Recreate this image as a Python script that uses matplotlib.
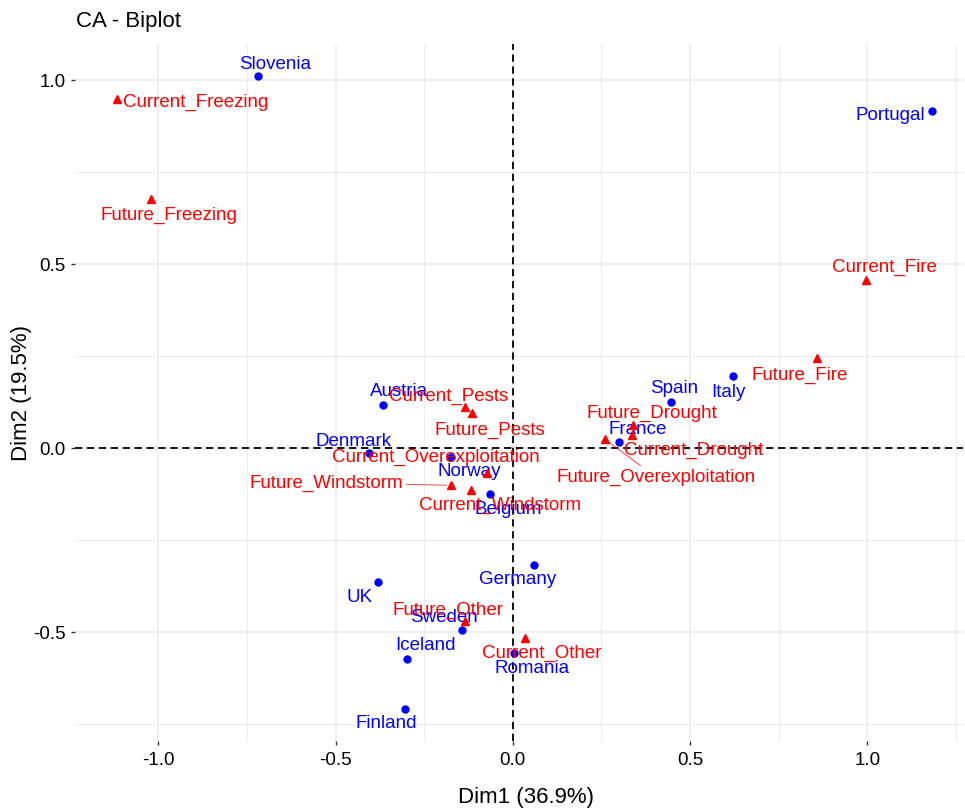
import numpy as np
import matplotlib
matplotlib.use("Agg")
import matplotlib.pyplot as plt

plt.rcParams['font.family'] = ['Liberation Sans', 'DejaVu Sans']

# Row points (countries)
row_names = ["Slovenia", "Portugal", "Italy", "Spain", "France", "Austria",
             "Denmark", "Norway", "Belgium", "Germany", "UK", "Sweden",
             "Iceland", "Romania", "Finland"]
row_dim1 = [-0.719, 1.183, 0.622, 0.447, 0.301, -0.367,
            -0.405, -0.175, -0.064, 0.061, -0.381, -0.144,
            -0.298, 0.002, -0.305]
row_dim2 = [1.011, 0.917, 0.196, 0.125, 0.017, 0.118,
            -0.014, -0.024, -0.125, -0.317, -0.365, -0.494,
            -0.573, -0.558, -0.710]

# Column points (threats)
col_names = ["Current_Freezing", "Future_Freezing", "Current_Fire", "Future_Fire",
             "Future_Drought", "Current_Drought", "Future_Overexploitation",
             "Current_Pests", "Future_Pests", "Current_Overexploitation",
             "Future_Windstorm", "Current_Windstorm", "Future_Other", "Current_Other"]
col_dim1 = [-1.117, -1.020, 0.997, 0.858,
            0.340, 0.337, 0.260,
            -0.134, -0.116, -0.073,
            -0.175, -0.118, -0.135, 0.035]
col_dim2 = [0.948, 0.677, 0.457, 0.244,
            0.0625, 0.035, 0.024,
            0.112, 0.094, -0.069,
            -0.101, -0.114, -0.470, -0.517]

# label offsets in pixels (repel layout)
row_offsets = {"Slovenia": (17, 12), "Portugal": (-42, -5), "Italy": (-5, -17),
               "Spain": (3, 14), "France": (18, 12), "Austria": (16, 13),
               "Denmark": (-16, 12), "Norway": (18, -15), "Belgium": (18, -15),
               "Germany": (-17, -15), "UK": (-18, -15), "Sweden": (-18, 12),
               "Iceland": (18, 13), "Romania": (19, -15), "Finland": (-18, -14)}
col_offsets = {"Current_Freezing": (79, -3), "Future_Freezing": (18, -16),
               "Current_Fire": (18, 12), "Future_Fire": (-17, -17),
               "Future_Drought": (19, 12), "Current_Drought": (61, -15),
               "Future_Overexploitation": (51, -38), "Current_Pests": (-17, 10),
               "Future_Pests": (18, -17), "Current_Overexploitation": (-51, 16),
               "Future_Windstorm": (-124, 2), "Current_Windstorm": (29, -15),
               "Future_Other": (-17, 11), "Current_Other": (17, -15)}
with_segment = ["Future_Windstorm", "Future_Overexploitation"]

BLUE = "#0000FF"
RED = "#FF0000"
FS_LABEL = 13.5

fig = plt.figure(figsize=(9.65, 8.1), dpi=100)
ax = fig.add_axes([75 / 965, 1 - 741 / 810, 888 / 965, 697 / 810])

ax.set_xlim(-1.235, 1.270)
ax.set_ylim(-0.796, 1.098)

# grid like theme_minimal
xt = [-1.0, -0.5, 0.0, 0.5, 1.0]
yt = [-0.5, 0.0, 0.5, 1.0]
ax.set_xticks(xt, [f"{v:.1f}" for v in xt])
ax.set_yticks(yt, [f"{v:.1f}" for v in yt])
ax.set_xticks([-0.75, -0.25, 0.25, 0.75, 1.25], minor=True)
ax.set_yticks([-0.75, -0.25, 0.25, 0.75], minor=True)
ax.grid(which="major", color="#EBEBEB", lw=1.1)
ax.grid(which="minor", color="#EBEBEB", lw=0.7)
ax.set_axisbelow(True)
for s in ax.spines.values():
    s.set_visible(False)
ax.tick_params(which="major", length=3.2, width=1.0, color="#333333",
               labelsize=13.5, labelcolor="black")
ax.tick_params(axis="x", which="major", pad=5)
ax.tick_params(axis="y", which="major", pad=3.5)
ax.tick_params(which="minor", length=0)

# reference lines
ax.axhline(0, color="black", lw=1.3, ls=(0, (4, 2.6)), zorder=1)
ax.axvline(0, color="black", lw=1.3, ls=(0, (4, 2.6)), zorder=1)

# rows
ax.plot(row_dim1, row_dim2, "o", color=BLUE, ms=5, zorder=3)
for name, x, y in zip(row_names, row_dim1, row_dim2):
    ax.annotate(name, (x, y), xytext=row_offsets[name], textcoords="offset pixels",
                ha="center", va="center", color=BLUE, fontsize=FS_LABEL, zorder=4)

# columns
ax.plot(col_dim1, col_dim2, "^", color=RED, ms=6, zorder=5)
for name, x, y in zip(col_names, col_dim1, col_dim2):
    props = None
    if name in with_segment:
        props = dict(arrowstyle="-", color=RED, lw=0.5, shrinkA=0, shrinkB=3)
    ax.annotate(name, (x, y), xytext=col_offsets[name], textcoords="offset pixels",
                ha="center", va="center", color=RED, fontsize=FS_LABEL, zorder=6,
                arrowprops=props)

ax.set_xlabel("Dim1 (36.9%)", fontsize=16, va="center")
ax.set_ylabel("Dim2 (19.5%)", fontsize=16, va="center")
ax.xaxis.set_label_coords((526 - 75) / 888, (741 - 797) / 697)
ax.yaxis.set_label_coords((22 - 75) / 888, (741 - 393) / 697)

fig.text(76 / 965, 1 - 22 / 810, "CA - Biplot", fontsize=16, ha="left", va="center")

fig.savefig("out.png", dpi=100)
